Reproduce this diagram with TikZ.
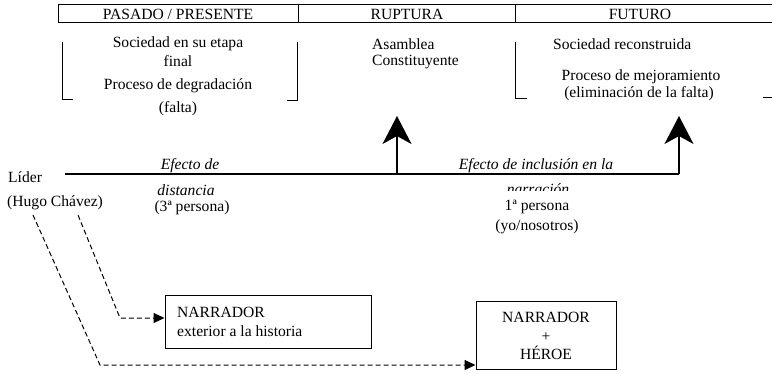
\documentclass[tikz,border=0pt]{standalone}
\usepackage{fontspec}
\setmainfont{Liberation Serif}
\usetikzlibrary{arrows.meta}
\begin{document}
\begin{tikzpicture}[x=1pt,y=-1pt,
  txt/.style={inner sep=0pt, font=\fontsize{15.6}{18.5}\selectfont},
  itx/.style={txt, font=\fontsize{15.6}{18.5}\selectfont\itshape},
  bracket/.style={line width=1pt},
  bigarrow/.style={line width=1.6pt, -{Stealth[length=28pt,width=29pt,inset=8pt]}},
  dasharrow/.style={line width=1pt, dash pattern=on 5pt off 3pt, -{Triangle[length=11pt,width=10pt]}},
  boxnode/.style={draw, line width=1pt, inner sep=0pt}]
\useasboundingbox (0,0) rectangle (772,373);
% top table
\draw[line width=1pt] (772,4) -- (58,4) -- (58,22) -- (772,22);
\draw[line width=1pt] (298,4) -- (298,22);
\draw[line width=1pt] (515,4) -- (515,22);
\node[txt] (h1) at (178,14) {PASADO / PRESENTE};
\node[txt] (h2) at (407,14) {RUPTURA};
\node[txt] (h3) at (640,14) {FUTURO};
% brackets
\draw[bracket] (62,42) -- (62,99) -- (73,99);
\draw[bracket] (297,42) -- (297,100) -- (287,100);
\draw[bracket] (515,42) -- (515,98) -- (527,98);
\draw[bracket] (763,97) -- (772,97);
% column texts
\node[txt] (t1) at (178,44) {Sociedad en su etapa};
\node[txt] (t2) at (178,61) {final};
\node[txt] (t3) at (178,86) {Proceso de degradación};
\node[txt] (t4) at (178,109) {(falta)};
\node[txt, anchor=west] (r1) at (372,44) {Asamblea};
\node[txt, anchor=west] (r2) at (372,62) {Constituyente};
\node[txt, anchor=west] (f1) at (553,44) {Sociedad reconstruida};
\node[txt] (f2) at (641,77) {Proceso de mejoramiento};
\node[txt] (f3) at (639,94) {(eliminación de la falta)};
% timeline
\coordinate (L0) at (65,174);
\coordinate (A1) at (397,174);
\coordinate (A2) at (679,174);
\coordinate (T1) at (397,116);
\coordinate (T2) at (679,116);
\draw[line width=1.6pt] (L0) -- (A2);
\draw[bigarrow] (A1) -- (T1);
\draw[bigarrow] (A2) -- (T2);
\node[txt, anchor=west] (lider) at (8,177) {Líder};
\node[txt, anchor=west] (hugo) at (7,203) {(Hugo Chávez)};
\node[itx] (e1) at (190,166) {Efecto de};
\node[itx] (e2) at (186,190) {distancia};
\node[txt] (e3) at (192,208) {(3ª persona)};
\node[itx] (i1) at (536,166) {Efecto de inclusión en la};
\begin{scope}
\clip (480,181) rectangle (600,190);
\node[itx] (i2) at (538,189) {narración};
\end{scope}
\node[txt] (i3) at (537,207) {1ª persona};
\node[txt] (i4) at (537,227) {(yo/nosotros)};
% boxes
\node[boxnode, minimum width=206pt, minimum height=53pt] (n1) at (268,321.5) {};
\node[txt, anchor=west, align=left] at (177,322) {NARRADOR\\exterior a la historia};
\node[boxnode, minimum width=140pt, minimum height=68pt] (n2) at (546,335) {};
\node[txt, align=center] at (546,336) {NARRADOR\\+\\HÉROE};
% dashed connectors
\coordinate (d1s) at (78,215);
\coordinate (d1b) at (120,318);
\coordinate (d2s) at (33,215);
\coordinate (d2b) at (100,365);
\draw[dasharrow] (d1s) -- (d1b) -- (n1.west |- d1b);
\draw[dasharrow] (d2s) -- (d2b) -- (n2.west |- d2b);
\end{tikzpicture}
\end{document}
